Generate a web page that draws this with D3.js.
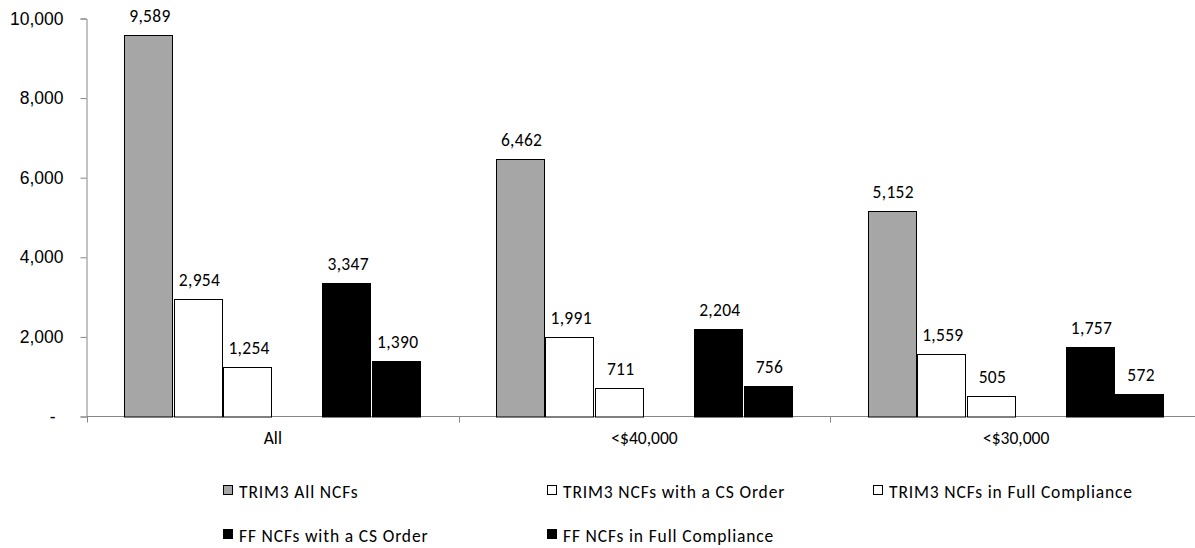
<!DOCTYPE html>
<html>
<head>
<meta charset="utf-8">
<script src="https://cdn.jsdelivr.net/npm/d3@7"></script>
<style>
  html, body { margin: 0; padding: 0; background: #fff; }
  svg { display: block; font-family: Carlito, Calibri, Lato, "Open Sans", sans-serif; }
</style>
</head>
<body>
<svg id="chart" width="1195" height="548"></svg>
<script>
// Income groups along the x axis
const categories = ["All", "<$40,000", "<$30,000"];

// Series names (an empty slot sits between the TRIM3 and FF series)
const seriesNames = [
  "TRIM3 All NCFs",
  "TRIM3 NCFs with a CS Order",
  "TRIM3 NCFs in Full Compliance",
  "FF NCFs with a CS Order",
  "FF NCFs in Full Compliance"
];
const slotKeys = [seriesNames[0], seriesNames[1], seriesNames[2], "__spacer__", seriesNames[3], seriesNames[4]];

// Values per series, one per category
const trim3All        = [9589, 6462, 5152];
const trim3CSOrder    = [2954, 1991, 1559];
const trim3Compliance = [1254, 711, 505];
const ffCSOrder       = [3347, 2204, 1757];
const ffCompliance    = [1390, 756, 572];
const seriesValues = [trim3All, trim3CSOrder, trim3Compliance, ffCSOrder, ffCompliance];

const seriesFill = ["#a6a6a6", "#ffffff", "#ffffff", "#000000", "#000000"];

const yTicks = [0, 2000, 4000, 6000, 8000, 10000];

const svg = d3.select("#chart");
const fontSize = 17.5;

const x0 = d3.scaleBand().domain(categories).range([87, 1202]).paddingInner(0).paddingOuter(0);
const x1 = d3.scaleBand().domain(slotKeys).range([0, x0.bandwidth()]).paddingInner(0).paddingOuter(0.75);
const y = d3.scaleLinear().domain([0, 10000]).range([416.5, 18.5]);

const fmt = d3.format(",");
const axisColor = "#868686";

// Y axis
const yAxis = svg.append("g")
  .attr("transform", "translate(86.5,0)")
  .call(d3.axisLeft(y).tickValues(yTicks).tickSize(6).tickPadding(17)
    .tickFormat(d => d === 0 ? "-" : fmt(d)));
yAxis.select(".domain").attr("stroke", axisColor);
yAxis.selectAll(".tick line").attr("stroke", axisColor);
yAxis.selectAll(".tick text")
  .attr("fill", "#000")
  .style("font-size", fontSize + "px")
  .style("font-family", "inherit")
  .attr("dx", d => d === 0 ? -8 : 0);

// X axis baseline with ticks at group boundaries
const xg = svg.append("g");
xg.append("line")
  .attr("x1", x0.range()[0]).attr("x2", x0.range()[1])
  .attr("y1", y(0)).attr("y2", y(0))
  .attr("stroke", axisColor);
const boundaries = categories.map(c => x0(c)).concat([x0.range()[1]]);
xg.selectAll("line.bt").data(boundaries).enter().append("line")
  .attr("class", "bt")
  .attr("x1", d => Math.round(d) + 0.5).attr("x2", d => Math.round(d) + 0.5)
  .attr("y1", y(0)).attr("y2", y(0) + 6)
  .attr("stroke", axisColor);
xg.selectAll("text").data(categories).enter().append("text")
  .attr("x", d => x0(d) + x0.bandwidth() / 2)
  .attr("y", 444)
  .attr("text-anchor", "middle")
  .style("font-size", fontSize + "px")
  .text(d => d);

// Bars and value labels
const barData = [];
seriesNames.forEach((name, si) => {
  categories.forEach((cat, ci) => {
    barData.push({ name, si, cat, value: seriesValues[si][ci] });
  });
});

const bars = svg.append("g");
bars.selectAll("rect").data(barData).enter().append("rect")
  .attr("x", d => Math.round(x0(d.cat) + x1(d.name)) + 0.5)
  .attr("y", d => Math.round(y(d.value)) + 0.5)
  .attr("width", d => Math.round(x1.bandwidth()) - 2)
  .attr("height", d => Math.round(y(0)) - Math.round(y(d.value)) - 0.5)
  .attr("fill", d => seriesFill[d.si])
  .attr("stroke", "#000")
  .attr("stroke-width", 1);

bars.selectAll("text").data(barData).enter().append("text")
  .attr("x", d => x0(d.cat) + x1(d.name) + x1.bandwidth() / 2 + 1)
  .attr("y", d => y(d.value) - 13)
  .attr("text-anchor", "middle")
  .style("font-size", fontSize + "px")
  .style("letter-spacing", "0.3px")
  .text(d => fmt(d.value));

// Legend: two rows, three columns
const legend = svg.append("g");
const legendPos = [
  [223, 491], [547, 491], [873, 491],
  [223, 535], [547, 535]
];
seriesNames.forEach((name, i) => {
  const [lx, ly] = legendPos[i];
  const g = legend.append("g").attr("transform", `translate(${lx},${ly})`);
  g.append("rect")
    .attr("x", 0.5).attr("y", -5.5)
    .attr("width", 9).attr("height", 9)
    .attr("fill", seriesFill[i])
    .attr("stroke", "#000").attr("stroke-width", 1);
  g.append("text")
    .attr("x", 16).attr("y", 7)
    .style("font-size", fontSize + "px")
    .style("letter-spacing", "0.85px")
    .text(name);
});
</script>
</body>
</html>
